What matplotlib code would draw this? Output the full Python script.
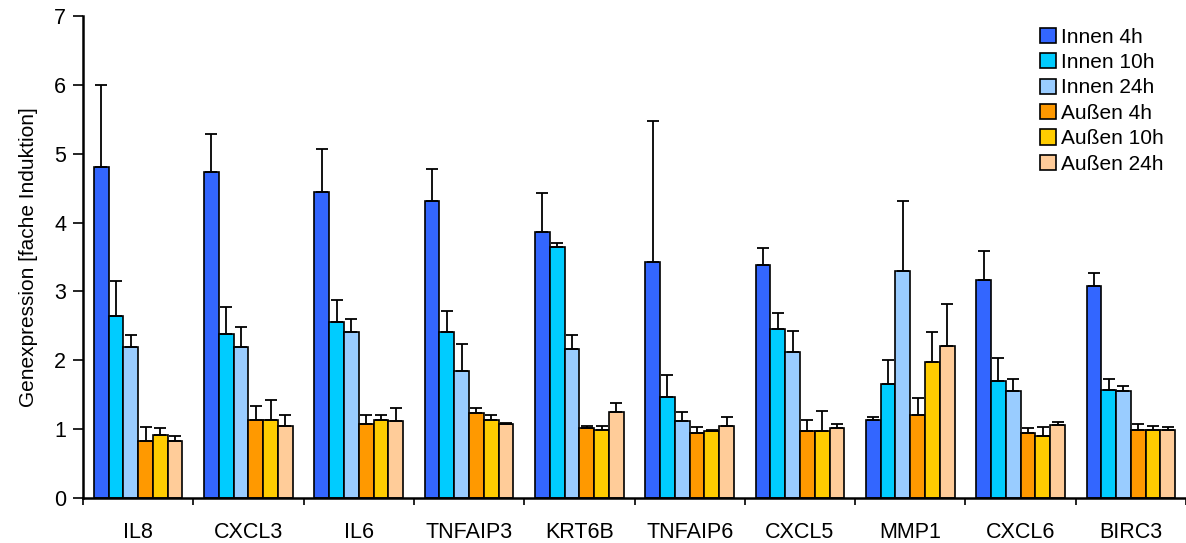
import numpy as np
import matplotlib.pyplot as plt

plt.rcParams['font.family'] = ['Liberation Sans', 'DejaVu Sans']

genes = ["IL8", "CXCL3", "IL6", "TNFAIP3", "KRT6B", "TNFAIP6", "CXCL5", "MMP1", "CXCL6", "BIRC3"]
series = ["Innen 4h", "Innen 10h", "Innen 24h", "Außen 4h", "Außen 10h", "Außen 24h"]
colors = ["#3366FF", "#00CCFF", "#99CCFF", "#FF9900", "#FFCC00", "#FFCC99"]

# mean values per series (one entry per gene)
innen_4h  = [4.80, 4.74, 4.45, 4.32, 3.86, 3.43, 3.38, 1.14, 3.17, 3.08]
innen_10h = [2.64, 2.38, 2.55, 2.41, 3.65, 1.47, 2.46, 1.66, 1.70, 1.57]
innen_24h = [2.19, 2.19, 2.41, 1.84, 2.16, 1.12, 2.12, 3.30, 1.55, 1.55]
aussen_4h  = [0.83, 1.14, 1.07, 1.23, 1.01, 0.94, 0.97, 1.20, 0.94, 0.99]
aussen_10h = [0.92, 1.14, 1.14, 1.14, 0.99, 0.97, 0.97, 1.97, 0.90, 0.99]
aussen_24h = [0.83, 1.05, 1.12, 1.07, 1.25, 1.05, 1.01, 2.21, 1.06, 0.99]

# upper end of the error bars
innen_4h_top  = [6.00, 5.28, 5.07, 4.78, 4.43, 5.48, 3.63, 1.18, 3.58, 3.27]
innen_10h_top = [3.15, 2.78, 2.88, 2.71, 3.71, 1.79, 2.69, 2.01, 2.03, 1.73]
innen_24h_top = [2.36, 2.49, 2.60, 2.23, 2.36, 1.25, 2.43, 4.32, 1.73, 1.62]
aussen_4h_top  = [1.03, 1.34, 1.21, 1.30, 1.05, 1.03, 1.13, 1.45, 1.01, 1.08]
aussen_10h_top = [1.01, 1.42, 1.20, 1.20, 1.05, 0.99, 1.27, 2.41, 1.03, 1.05]
aussen_24h_top = [0.90, 1.21, 1.31, 1.09, 1.38, 1.18, 1.07, 2.82, 1.10, 1.03]

means = [innen_4h, innen_10h, innen_24h, aussen_4h, aussen_10h, aussen_24h]
tops = [innen_4h_top, innen_10h_top, innen_24h_top, aussen_4h_top, aussen_10h_top, aussen_24h_top]

fig = plt.figure(figsize=(11.86, 5.43), dpi=100)
ax = fig.add_axes([83 / 1186, 45 / 543, 1 - 83 / 1186, (498 - 16) / 543])

x = np.arange(len(genes))
w = 0.134
for k, (m, t) in enumerate(zip(means, tops)):
    m = np.array(m)
    err = np.array(t) - m
    ax.bar(x + (k - 2.5) * w, m, w, color=colors[k], edgecolor="black", linewidth=1.2,
           label=series[k], yerr=[np.zeros_like(m), err],
           error_kw=dict(ecolor="black", elinewidth=1.3, capsize=4.5, capthick=1.3))

ax.set_xlim(-0.5, 9.47)
ax.set_ylim(0, 7)
ax.set_yticks(range(8))
# gene names centred under the groups, tick marks between the groups
ax.set_xticks(x, minor=True)
ax.set_xticklabels(genes, minor=True)
ax.set_xticks([-0.5] + list(x + 0.5))
ax.set_xticklabels([""] * 11)
ax.tick_params(axis="x", which="minor", length=0, pad=17, labelsize=15.5)
ax.tick_params(axis="x", which="major", direction="out", length=5, width=1.2)
ax.tick_params(axis="y", direction="out", length=7, width=1.2, labelsize=15.5, pad=5)
for s in ["top", "right"]:
    ax.spines[s].set_visible(False)
for s in ["left", "bottom"]:
    ax.spines[s].set_linewidth(1.8)
ax.set_ylabel("Genexpression [fache Induktion]", fontsize=15, labelpad=12)

ax.legend(loc="upper right", frameon=False, fontsize=15, handlelength=0.75, handleheight=0.75,
          handletextpad=0.25, labelspacing=0.31, bbox_to_anchor=(0.997, 1.015))

fig.savefig("out.png", dpi=100)
